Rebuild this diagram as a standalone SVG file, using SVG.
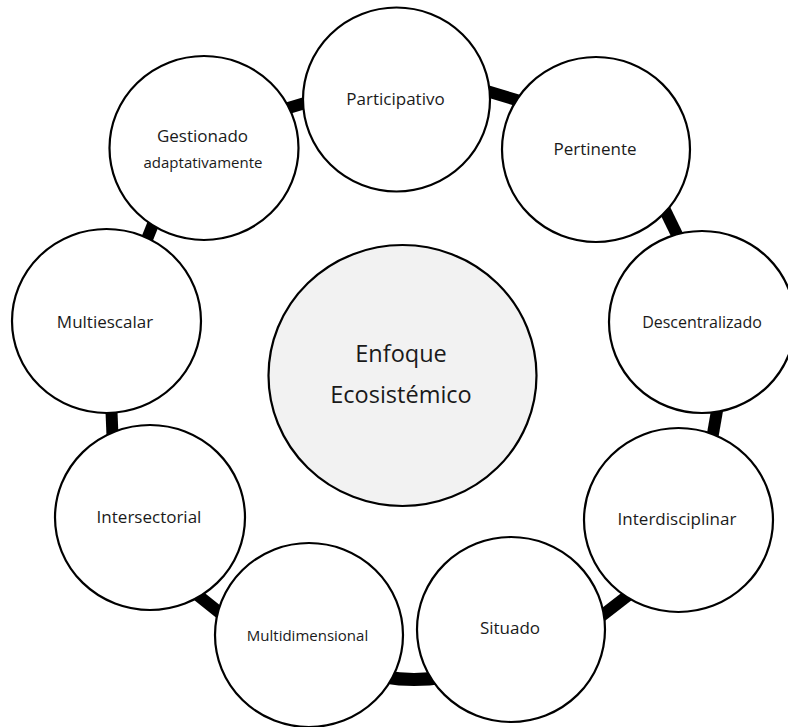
<svg xmlns="http://www.w3.org/2000/svg" width="788" height="727" viewBox="0 0 788 727">
<style>
.node{fill:#fff;stroke:#000;stroke-width:2.2}
.hub{fill:#f2f2f2;stroke:#000;stroke-width:2.2}
.lbl{font-family:"Open Sans","Noto Sans",sans-serif;font-size:17px;fill:#1a1a1a;text-anchor:middle}
.sm{font-size:15px}
.big{font-size:23.5px}
.con{fill:none;stroke:#000;stroke-width:12}
</style>
<rect width="788" height="727" fill="#fff"/>
<g id="connectors">
<path class="con" d="M275,112 L315,100"/>
<path class="con" d="M480,89 L530,104"/>
<path class="con" d="M660,200 L682,245"/>
<path class="con" d="M718,405 L711,445"/>
<path class="con" d="M595,621 L635,590"/>
<path class="con" style="stroke-width:13" d="M385,677 Q413,682 445,677"/>
<path class="con" d="M185,585 L235,625"/>
<path class="con" d="M111,400 L113,448"/>
<path class="con" d="M141,254 L160,207"/>
</g>
<g id="hub">
<ellipse class="hub" cx="402.5" cy="375.5" rx="134" ry="130.5"/>
<text class="lbl big" x="401" y="362">Enfoque</text>
<text class="lbl big" x="401" y="403">Ecosistémico</text>
</g>
<g id="participativo">
<ellipse class="node" cx="396.5" cy="99.5" rx="93.5" ry="92"/>
<text class="lbl" x="395.5" y="105">Participativo</text>
</g>
<g id="pertinente">
<ellipse class="node" cx="596" cy="149.5" rx="94" ry="92.5"/>
<text class="lbl" x="595" y="155">Pertinente</text>
</g>
<g id="descentralizado">
<ellipse class="node" cx="702" cy="322" rx="93" ry="91"/>
<text class="lbl" style="font-size:16px" x="702" y="328">Descentralizado</text>
</g>
<g id="interdisciplinar">
<ellipse class="node" cx="678.5" cy="520" rx="94.5" ry="92"/>
<text class="lbl" x="677" y="525">Interdisciplinar</text>
</g>
<g id="situado">
<ellipse class="node" cx="511" cy="629.5" rx="94" ry="92.5"/>
<text class="lbl" x="510" y="634">Situado</text>
</g>
<g id="multidimensional">
<ellipse class="node" cx="309" cy="635" rx="94" ry="92"/>
<text class="lbl sm" x="307.5" y="641">Multidimensional</text>
</g>
<g id="intersectorial">
<ellipse class="node" cx="150" cy="517.5" rx="95" ry="92.5"/>
<text class="lbl" x="149" y="523">Intersectorial</text>
</g>
<g id="multiescalar">
<ellipse class="node" cx="106.5" cy="321" rx="94.5" ry="92"/>
<text class="lbl" x="105" y="328">Multiescalar</text>
</g>
<g id="gestionado">
<ellipse class="node" cx="204" cy="148" rx="94.5" ry="92"/>
<text class="lbl" x="202.5" y="142">Gestionado</text>
<text class="lbl sm" x="203" y="168">adaptativamente</text>
</g>
</svg>
